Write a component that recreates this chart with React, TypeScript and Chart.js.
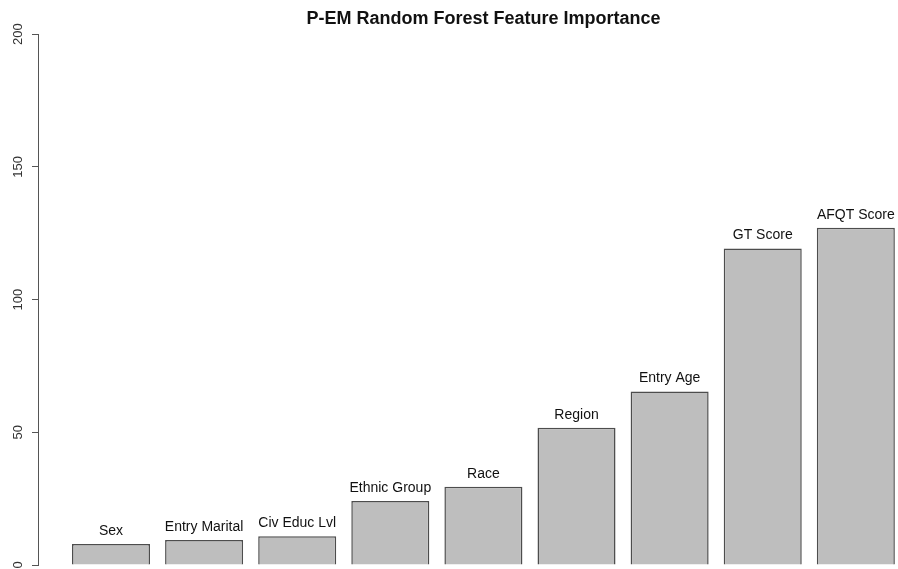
import React, { useEffect, useRef } from "react";
import { Chart, registerables } from "chart.js";

Chart.register(...registerables);

const categories = [
  "Sex",
  "Entry Marital",
  "Civ Educ Lvl",
  "Ethnic Group",
  "Race",
  "Region",
  "Entry Age",
  "GT Score",
  "AFQT Score",
];
const importance = [7.9, 9.4, 10.8, 24.1, 29.5, 51.7, 65.4, 119.3, 127.1];
const yTicks = [0, 50, 100, 150, 200];
const titleText = "P-EM Random Forest Feature Importance";

const FONT = '"Liberation Sans", Arial, Helvetica, sans-serif';
const CANVAS_W = 967;
const CANVAS_H = 569;

export default function App() {
  const ref = useRef<HTMLCanvasElement | null>(null);

  useEffect(() => {
    const canvas = ref.current;
    if (!canvas) return;

    const rLabels = {
      id: "rLabels",
      afterDatasetsDraw(chart: any) {
        const ctx = chart.ctx;
        const meta = chart.getDatasetMeta(0);
        ctx.save();
        ctx.fillStyle = "#111";
        ctx.font = `14px ${FONT}`;
        ctx.textAlign = "center";
        ctx.textBaseline = "middle";
        meta.data.forEach((bar: any, i: number) => {
          ctx.fillText(categories[i], bar.x, bar.y - 13);
        });
        ctx.restore();

        const ys = chart.scales.y;
        ctx.save();
        ctx.fillStyle = "#333";
        ctx.font = `13px ${FONT}`;
        ctx.textAlign = "center";
        ctx.textBaseline = "middle";
        yTicks.forEach((v) => {
          const py = ys.getPixelForValue(v);
          ctx.save();
          ctx.translate(18, py);
          ctx.rotate(-Math.PI / 2);
          ctx.fillText(String(v), 0, 0);
          ctx.restore();
        });
        ctx.restore();
      },
    };

    const chart = new Chart(canvas, {
      type: "bar",
      data: {
        datasets: [
          {
            data: importance.map((v, i) => ({ x: i, y: v })),
            backgroundColor: "#bebebe",
            borderColor: "#4d4d4d",
            borderWidth: 1.5,
            categoryPercentage: 1,
            barPercentage: 0.838,
          } as any,
        ],
      },
      options: {
        responsive: false,
        animation: false,
        devicePixelRatio: 1,
        layout: { padding: { left: 0, right: 0, top: 0, bottom: 4 } },
        plugins: {
          legend: { display: false },
          tooltip: { enabled: false },
          title: {
            display: true,
            text: titleText,
            color: "#111",
            font: { family: FONT, size: 18, weight: "bold" },
            padding: { top: 8, bottom: 4.6 },
          },
        },
        scales: {
          x: {
            type: "linear",
            min: -0.784,
            max: 9.194,
            display: false,
            offset: false,
            afterBuildTicks(scale: any) {
              scale.ticks = categories.map((_, i) => ({ value: i }));
            },
          },
          y: {
            min: 0,
            max: 200,
            afterFit(scale: any) {
              scale.width = 38;
            },
            ticks: { display: false, stepSize: 50 },
            grid: {
              display: true,
              drawOnChartArea: false,
              drawTicks: true,
              tickLength: 6,
              color: "#555",
              lineWidth: 1,
            },
            border: { display: true, color: "#555", width: 1 },
          },
        },
      },
      plugins: [rLabels],
    });

    return () => chart.destroy();
  }, []);

  return (
    <div
      style={{
        position: "fixed",
        left: 0,
        top: 0,
        width: CANVAS_W,
        height: CANVAS_H,
        background: "#fff",
      }}
    >
      <canvas
        ref={ref}
        width={CANVAS_W}
        height={CANVAS_H}
        style={{ display: "block", width: CANVAS_W, height: CANVAS_H }}
      />
    </div>
  );
}
